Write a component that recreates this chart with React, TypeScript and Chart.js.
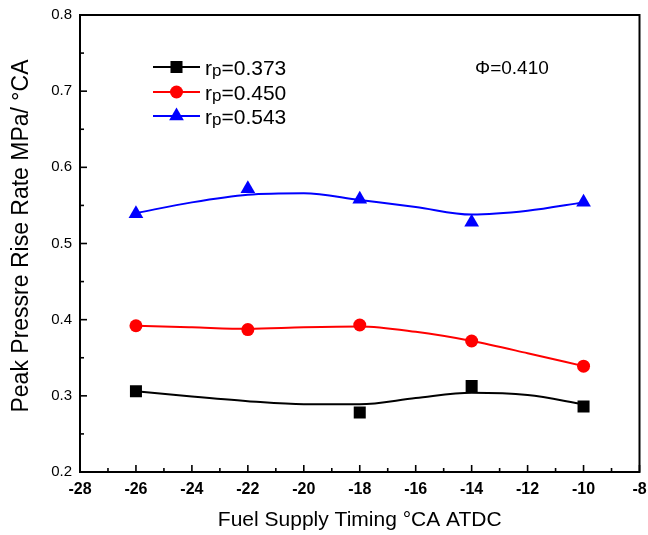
import React, { useEffect, useRef } from 'react';
import { Chart, registerables } from 'chart.js';

Chart.register(...registerables);

// ---- data ----
const timings = [-26, -22, -18, -14, -10];
const rp373 = [0.306, null, 0.278, 0.313, 0.286];
const rp450 = [0.392, 0.387, 0.393, 0.372, 0.339];
const rp543 = [0.539, 0.572, 0.558, 0.528, 0.554];

// smooth fitted curves
const fitX = [-26, -24, -22, -20, -18, -16, -14, -12, -10];
const fit373 = [0.306, 0.299, 0.293, 0.289, 0.289, 0.297, 0.304, 0.301, 0.289];
const fit450 = [0.392, 0.39, 0.388, 0.39, 0.391, 0.384, 0.372, 0.356, 0.339];
const fit543 = [0.54, 0.554, 0.564, 0.566, 0.557, 0.548, 0.538, 0.543, 0.554];

const seriesLabels = ['0.373', '0.450', '0.543'];
const seriesColors = ['#000000', '#ff0000', '#0000ff'];
const seriesMarkers = ['rect', 'circle', 'triangle'];
const seriesValues = [rp373, rp450, rp543];
const seriesFits = [fit373, fit450, fit543];

const xMin = -28;
const xMax = -8;
const xStep = 2;
const yMin = 0.2;
const yMax = 0.8;
const yStep = 0.1;

const xTitle = 'Fuel Supply Timing °CA ATDC';
const yTitle = 'Peak Pressre Rise Rate MPa/ °CA';
const phiText = 'Φ=0.410';

const FONT = "'Liberation Sans', Arial, Helvetica, sans-serif";

function drawMarker(ctx: CanvasRenderingContext2D, style: string, x: number, y: number, r: number, color: string) {
  ctx.save();
  ctx.fillStyle = color;
  ctx.beginPath();
  if (style === 'rect') {
    const s = Math.SQRT1_2 * r;
    ctx.rect(x - s, y - s, 2 * s, 2 * s);
  } else if (style === 'circle') {
    ctx.arc(x, y, r, 0, Math.PI * 2);
  } else {
    ctx.moveTo(x, y - r);
    ctx.lineTo(x + Math.sin((2 * Math.PI) / 3) * r, y + r / 2);
    ctx.lineTo(x - Math.sin((2 * Math.PI) / 3) * r, y + r / 2);
    ctx.closePath();
  }
  ctx.fill();
  ctx.restore();
}

const decorPlugin = {
  id: 'decor',
  afterDraw(chart: any) {
    const ctx: CanvasRenderingContext2D = chart.ctx;
    const { left, right, top, bottom } = chart.chartArea;
    const xs = chart.scales.x;
    const ys = chart.scales.y;
    ctx.save();
    ctx.strokeStyle = '#000';
    // inward ticks
    ctx.lineWidth = 1.6;
    for (let v = xMin; v <= xMax + 1e-9; v += xStep / 2) {
      const px = xs.getPixelForValue(v);
      const major = Math.abs(((v - xMin) / xStep) - Math.round((v - xMin) / xStep)) < 1e-6;
      const len = major ? 7 : 4;
      ctx.beginPath();
      ctx.moveTo(px, bottom);
      ctx.lineTo(px, bottom - len);
      ctx.stroke();
    }
    for (let i = 0; i <= Math.round((yMax - yMin) / (yStep / 2)); i++) {
      const v = yMin + (i * yStep) / 2;
      const py = ys.getPixelForValue(v);
      const len = i % 2 === 0 ? 7 : 4;
      ctx.beginPath();
      ctx.moveTo(left, py);
      ctx.lineTo(left + len, py);
      ctx.stroke();
    }
    // frame
    ctx.lineWidth = 2;
    ctx.strokeRect(left, top, right - left, bottom - top);

    // y-axis title
    ctx.save();
    ctx.translate(22, 236);
    ctx.rotate(-Math.PI / 2);
    ctx.fillStyle = '#000';
    ctx.font = `23px ${FONT}`;
    ctx.textAlign = 'center';
    ctx.textBaseline = 'middle';
    ctx.fillText(yTitle, 0, 0);
    ctx.restore();

    // legend
    const rowY = [67, 92, 116];
    const pointSets = chart.data.datasets.filter((d: any) => d.isSeries);
    pointSets.forEach((d: any, i: number) => {
      const y = rowY[i];
      ctx.strokeStyle = d.borderColor;
      ctx.lineWidth = 2;
      ctx.beginPath();
      ctx.moveTo(153, y);
      ctx.lineTo(200, y);
      ctx.stroke();
      drawMarker(ctx, d.pointStyle, 176.5, y, d.pointRadius, d.backgroundColor);
      ctx.fillStyle = '#000';
      ctx.textBaseline = 'alphabetic';
      ctx.textAlign = 'left';
      const base = y + 7.5;
      ctx.font = `21px ${FONT}`;
      ctx.fillText('r', 205, base);
      const rw = ctx.measureText('r').width;
      ctx.font = `17px ${FONT}`;
      ctx.fillText('p', 205 + rw, base + 1);
      const pw = ctx.measureText('p').width;
      ctx.font = `21px ${FONT}`;
      ctx.fillText('=' + d.label, 205 + rw + pw, base);
    });

    // annotation
    ctx.fillStyle = '#000';
    ctx.font = `19px ${FONT}`;
    ctx.textAlign = 'left';
    ctx.textBaseline = 'middle';
    ctx.fillText(phiText, 475, 69);
    ctx.restore();
  },
};

export default function App() {
  const ref = useRef<HTMLCanvasElement | null>(null);

  useEffect(() => {
    if (!ref.current) return;
    const pointDatasets = seriesValues.map((vals, i) => ({
      label: seriesLabels[i],
      isSeries: true,
      data: timings.map((t, j) => ({ x: t, y: vals[j] })).filter((p) => p.y !== null),
      showLine: false,
      pointStyle: seriesMarkers[i],
      pointRadius: seriesMarkers[i] === 'circle' ? 6.5 : 8.5,
      backgroundColor: seriesColors[i],
      borderColor: seriesColors[i],
      borderWidth: 0,
    }));
    const fitDatasets = seriesFits.map((vals, i) => ({
      label: 'fit ' + seriesLabels[i],
      isSeries: false,
      data: fitX.map((t, j) => ({ x: t, y: vals[j] })),
      showLine: true,
      cubicInterpolationMode: 'monotone',
      pointRadius: 0,
      borderColor: seriesColors[i],
      backgroundColor: seriesColors[i],
      borderWidth: 2,
    }));

    const chart = new Chart(ref.current, {
      type: 'scatter',
      data: { datasets: [...pointDatasets, ...fitDatasets] as any },
      options: {
        responsive: false,
        animation: false,
        devicePixelRatio: 1,
        layout: { padding: { top: 15, right: 7, left: 0, bottom: 0 } },
        plugins: { legend: { display: false }, tooltip: { enabled: false } },
        scales: {
          x: {
            type: 'linear',
            min: xMin,
            max: xMax,
            grid: { display: false, drawTicks: false },
            border: { display: false },
            ticks: {
              stepSize: xStep,
              color: '#000',
              padding: 8,
              maxRotation: 0,
              font: { family: FONT, size: 16, weight: 'bold' },
              callback: (v: any) => String(v),
            },
            title: {
              display: true,
              text: xTitle,
              color: '#000',
              font: { family: FONT, size: 21 },
              padding: { top: 0, bottom: 2 },
            },
            afterFit: (s: any) => {
              s.height = 63;
              s.paddingLeft = 0;
              s.paddingRight = 0;
            },
          },
          y: {
            type: 'linear',
            min: yMin,
            max: yMax,
            grid: { display: false, drawTicks: false },
            border: { display: false },
            ticks: {
              stepSize: yStep,
              color: '#000',
              padding: 8,
              font: { family: FONT, size: 15 },
              callback: (v: any) => Number(v).toFixed(1),
            },
            title: { display: false, text: yTitle },
            afterFit: (s: any) => {
              s.width = 80;
              s.paddingTop = 0;
              s.paddingBottom = 0;
            },
          },
        },
      } as any,
      plugins: [decorPlugin],
    });
    return () => chart.destroy();
  }, []);

  return (
    <div style={{ position: 'fixed', left: 0, top: 0, width: 648, height: 535, background: '#fff' }}>
      <canvas ref={ref} width={648} height={535} style={{ display: 'block', width: 648, height: 535 }} />
    </div>
  );
}
